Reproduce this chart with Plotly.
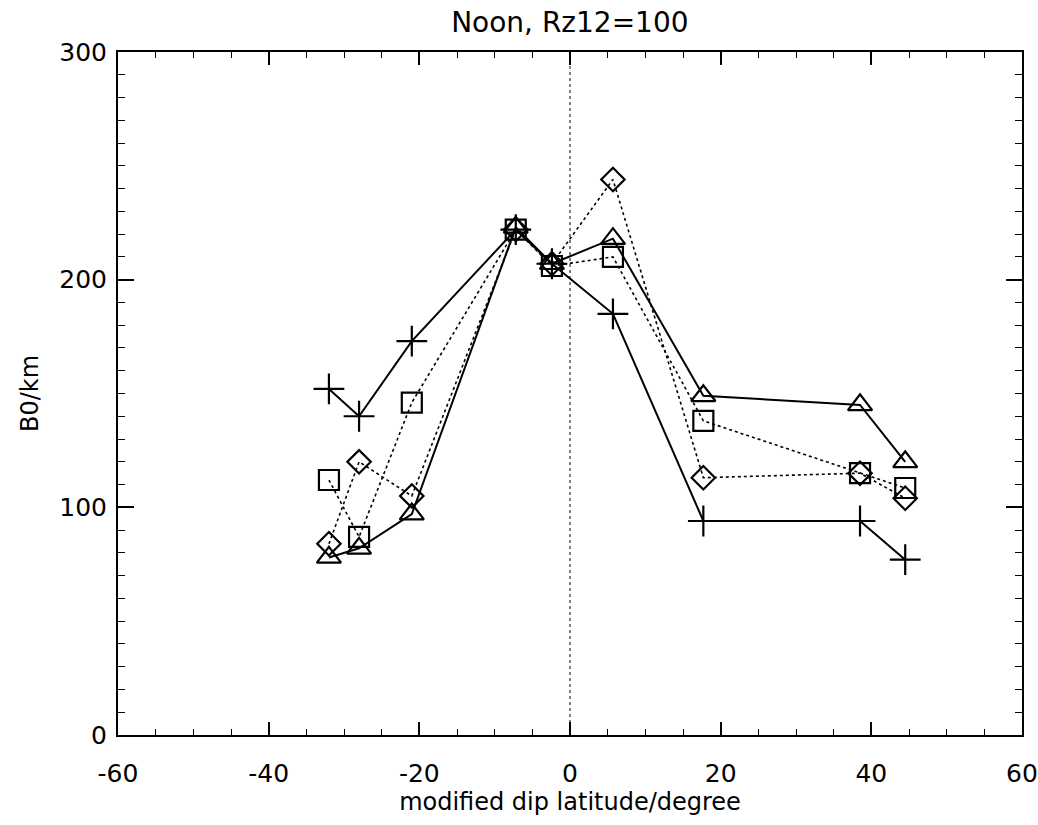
import plotly.graph_objects as go

lat = [-32, -28, -21, -7.2, -2.4, 5.7, 17.7, 38.5, 44.5]
b0_plus = [152, 140, 173, 222, 207, 185, 94, 94, 77]
b0_triangle = [78, 82, 97, 223, 207, 218, 149, 145, 120]
b0_square = [112, 87, 146, 222, 206, 210, 138, 115, 108.5]
b0_diamond = [84, 120, 105, 222, 207, 244, 113, 115, 104]

x_ticks = [-60, -40, -20, 0, 20, 40, 60]
y_ticks = [0, 100, 200, 300]

fig = go.Figure()

fig.add_trace(go.Scatter(x=[0, 0], y=[0, 300], mode="lines",
                         line=dict(color="black", width=1, dash="dot"),
                         showlegend=False, hoverinfo="skip"))

series = [
    (b0_plus, "cross-thin", "solid", 2, 22),
    (b0_triangle, "triangle-up-open", "solid", 2, 21),
    (b0_square, "square-open", "dot", 1.6, 20),
    (b0_diamond, "diamond-open", "dot", 1.6, 18),
]
for ys, sym, dash, lw, ms in series:
    fig.add_trace(go.Scatter(
        x=lat, y=ys, mode="lines+markers",
        line=dict(color="black", width=lw, dash=dash),
        marker=dict(symbol=sym, size=ms, color="black",
                    line=dict(color="black", width=2.2)),
        showlegend=False))

tick_font = dict(family="DejaVu Sans", size=25, color="black")
label_font = dict(family="DejaVu Sans", size=24, color="black")

fig.update_xaxes(range=[-60, 60], tickvals=x_ticks, ticktext=[str(v) for v in x_ticks],
                 ticks="inside", ticklen=13, tickwidth=1.5, tickcolor="black",
                 minor=dict(dtick=5, ticks="inside", ticklen=6, tickwidth=1.2, tickcolor="black"),
                 showline=True, linecolor="black", linewidth=2, mirror="allticks",
                 showgrid=False, zeroline=False, tickfont=tick_font, ticklabelstandoff=15,
                 ticklabeloverflow="allow", automargin=False,
                 title=dict(text="modified dip latitude/degree", font=label_font, standoff=6))
fig.update_yaxes(range=[0, 300], tickvals=y_ticks, ticktext=[str(v) for v in y_ticks],
                 ticks="inside", ticklen=16, tickwidth=1.5, tickcolor="black",
                 minor=dict(dtick=10, ticks="inside", ticklen=7, tickwidth=1.2, tickcolor="black"),
                 showline=True, linecolor="black", linewidth=2, mirror="allticks",
                 showgrid=False, zeroline=False, tickfont=tick_font, ticklabelstandoff=4,
                 ticklabeloverflow="allow", automargin=False,
                 title=dict(text="B0/km", font=label_font, standoff=14))

fig.update_layout(
    width=1038, height=825,
    margin=dict(l=118, r=16, t=52, b=90),
    paper_bgcolor="white", plot_bgcolor="white",
    title=dict(text="Noon, Rz12=100", x=0.549, xanchor="center", y=0.973, yanchor="middle",
               font=dict(family="DejaVu Sans", size=28, color="black")),
)

fig.write_html("out.html")
